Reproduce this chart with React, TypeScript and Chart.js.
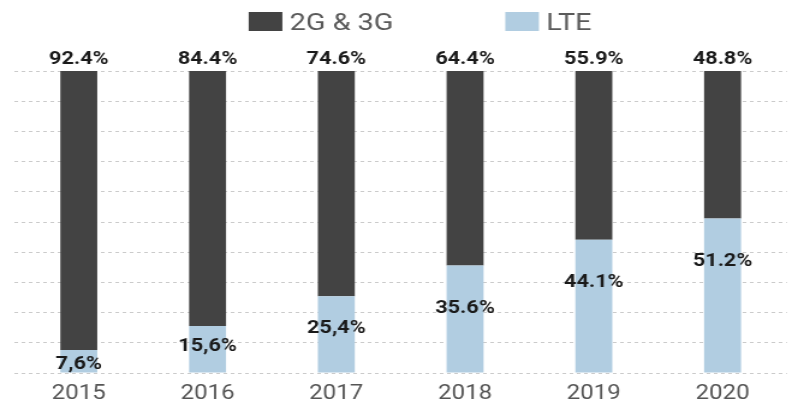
import { useEffect, useRef } from "react";
import { Chart, registerables } from "chart.js";

Chart.register(...registerables);

// ---- data ----
const years = ["2015", "2016", "2017", "2018", "2019", "2020"];
const legacyShare = [92.4, 84.4, 74.6, 64.4, 55.9, 48.8];
const lteShare = [7.6, 15.6, 25.4, 35.6, 44.1, 51.2];
const legacyLabels = ["92.4%", "84.4%", "74.6%", "64.4%", "55.9%", "48.8%"];
const lteLabels = ["7,6%", "15,6%", "25,4%", "35.6%", "44.1%", "51.2%"];
const seriesNames = ["2G & 3G", "LTE"];
const yMax = 100;
const yStep = 10;

// ---- styling ----
const STRETCH = 1.2;
const WIDTH = 793 / STRETCH;
const HEIGHT = 400;
const DARK = "#434343";
const BLUE = "#b1cde1";
const FONT = "Roboto";

const valueLabels = {
  id: "valueLabels",
  afterDatasetsDraw(chart: any) {
    const ctx = chart.ctx;
    const lteMeta = chart.getDatasetMeta(0);
    const legacyMeta = chart.getDatasetMeta(1);
    ctx.save();
    ctx.font = `bold 18px ${FONT}`;
    ctx.fillStyle = "#1a1a1a";
    ctx.textAlign = "center";
    ctx.textBaseline = "alphabetic";
    const cap = 18 * 0.711;
    lteMeta.data.forEach((el: any, i: number) => {
      const top = legacyMeta.data[i];
      ctx.fillText(legacyLabels[i], top.x, top.y - 7);
      const h = el.base - el.y;
      const off = Math.min(41, Math.max(13, 0.4 * h));
      ctx.fillText(lteLabels[i], el.x, el.y + off + cap / 2);
    });
    ctx.restore();
  },
};

const customLegend = {
  id: "customLegend",
  afterDraw(chart: any) {
    const ctx = chart.ctx;
    const items = [
      { text: seriesNames[0], color: DARK },
      { text: seriesNames[1], color: BLUE },
    ];
    const boxW = 28;
    const boxH = 19;
    const gapText = 6;
    const gapItem = 93;
    ctx.save();
    ctx.font = `24px ${FONT}`;
    const widths = items.map((it) => boxW + gapText + ctx.measureText(it.text).width);
    const total = widths.reduce((a, b) => a + b, 0) + gapItem * (items.length - 1);
    let x = 349.5 - total / 2;
    const cy = 21.5;
    items.forEach((it, i) => {
      ctx.fillStyle = it.color;
      ctx.fillRect(x, cy - boxH / 2, boxW, boxH);
      ctx.fillStyle = "#5a5a5a";
      ctx.textAlign = "left";
      ctx.textBaseline = "alphabetic";
      ctx.fillText(it.text, x + boxW + gapText, cy + (24 * 0.711) / 2);
      x += widths[i] + gapItem;
    });
    ctx.restore();
  },
};

export default function App() {
  const ref = useRef<HTMLCanvasElement | null>(null);
  useEffect(() => {
    if (!ref.current) return;
    const chart = new Chart(ref.current, {
      type: "bar",
      data: {
        labels: years,
        datasets: [
          {
            label: seriesNames[1],
            data: lteShare,
            backgroundColor: BLUE,
            barPercentage: 0.287,
            categoryPercentage: 1,
          },
          {
            label: seriesNames[0],
            data: legacyShare,
            backgroundColor: DARK,
            barPercentage: 0.287,
            categoryPercentage: 1,
          },
        ],
      },
      options: {
        animation: false,
        responsive: true,
        maintainAspectRatio: false,
        layout: { padding: { top: 71, left: 12, right: 6, bottom: 0 } },
        plugins: { legend: { display: false }, tooltip: { enabled: false } },
        scales: {
          x: {
            stacked: true,
            grid: { display: false },
            border: { display: false },
            afterFit: (scale: any) => {
              scale.height = 27;
            },
            ticks: {
              color: "#555",
              padding: 3,
              maxRotation: 0,
              font: { family: FONT, size: 20, lineHeight: 1 },
            },
          },
          y: {
            stacked: true,
            min: 0,
            max: yMax,
            ticks: { display: false, stepSize: yStep },
            grid: { color: "#cbcbcb", drawTicks: false, lineWidth: 1 },
            border: { display: false, dash: [3, 3] },
          },
        },
      },
      plugins: [valueLabels, customLegend],
    });
    return () => chart.destroy();
  }, []);
  return (
    <div
      style={{
        position: "absolute",
        left: 0,
        top: 0,
        width: WIDTH,
        height: HEIGHT,
        transform: `scaleX(${STRETCH})`,
        transformOrigin: "0 0",
      }}
    >
      <canvas ref={ref} />
    </div>
  );
}
